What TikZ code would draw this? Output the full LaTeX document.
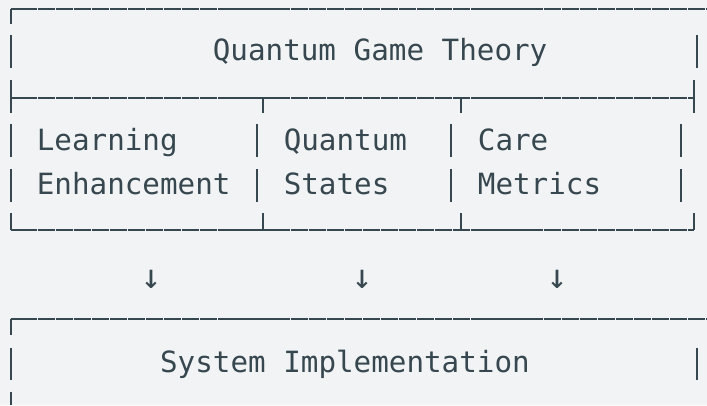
\documentclass[tikz,border=0pt]{standalone}
\usepackage{fontspec}
\newfontfamily\boxfont{DejaVu Sans Mono}
\usepackage{xcolor}
\usepackage{tikz}
\definecolor{ink}{HTML}{37474F}
\definecolor{paper}{HTML}{F1F3F4}

\begin{document}
\begin{tikzpicture}[
    x=1bp, y=-1bp,
    rule/.style={draw=ink, line width=2bp},
    seam/.style={rule, dash pattern=on 17.3bp off 0.77bp, dash phase=9.3bp},
    label/.style={anchor=base west, inner sep=0pt, text=ink, font=\boxfont\fontsize{29.24bp}{44.5bp}\selectfont},
    glyph/.style={anchor=center, inner sep=0pt, text=ink, font=\boxfont\fontsize{34bp}{40bp}\selectfont}
]
% Canvas
\fill[paper] (0,0) rectangle (707,405);
\useasboundingbox (0,0) rectangle (707,405);

% Top box: title row
\draw[seam] (10.7,8.7) -- (707,8.7);
\draw[rule] (10.7,8.7) -- (10.7,24);
\draw[rule] (10.7,35) -- (10.7,68.3);
\draw[rule] (697,35) -- (697,68.3);
\node[label] (title) at (212.67,60.7) {Quantum Game Theory};

% Split line under the title
\draw[seam] (10.7,97.7) -- (694.3,97.7);
\draw[rule] (10.7,80) -- (10.7,113);
\draw[rule] (262.7,97.7) -- (262.7,113.3);
\draw[rule] (461,97.7) -- (461,113.3);
\draw[rule] (694.3,80) -- (694.3,113);

% Three cells
\draw[rule] (10.7,124.3) -- (10.7,157.3);
\draw[rule] (257.3,124.3) -- (257.3,157.3);
\draw[rule] (451,124.3) -- (451,157.3);
\draw[rule] (680.7,124.3) -- (680.7,157.3);
\draw[rule] (10.7,169) -- (10.7,202);
\draw[rule] (257.3,169) -- (257.3,202);
\draw[rule] (451,169) -- (451,202);
\draw[rule] (680.7,169) -- (680.7,202);
\node[label] (learnA) at (36.67,150) {Learning};
\node[label] (learnB) at (36.67,194.5) {Enhancement};
\node[label] (quantA) at (283.57,150) {Quantum};
\node[label] (quantB) at (283.57,194.5) {States};
\node[label] (careA) at (477.7,150) {Care};
\node[label] (careB) at (477.7,194.5) {Metrics};

% Bottom line of the top box
\draw[seam] (10.7,230.3) -- (694.3,230.3);
\draw[rule] (10.7,213.3) -- (10.7,230.3);
\draw[rule] (262.7,213.3) -- (262.7,230.3);
\draw[rule] (461,213.3) -- (461,230.3);
\draw[rule] (694.3,213.3) -- (694.3,230.3);

% Down arrows
\node[glyph] (arrL) at (151,279) {↓};
\node[glyph] (arrM) at (362,279) {↓};
\node[glyph] (arrR) at (557,279) {↓};

% Lower box
\draw[seam] (10.7,319) -- (707,319);
\draw[rule] (10.7,319) -- (10.7,335);
\draw[rule] (10.7,347.7) -- (10.7,380);
\draw[rule] (697,347.7) -- (697,380);
\draw[rule] (10.7,391.7) -- (10.7,405);
\node[label] (impl) at (159.9,372.5) {System Implementation};
\end{tikzpicture}
\end{document}
